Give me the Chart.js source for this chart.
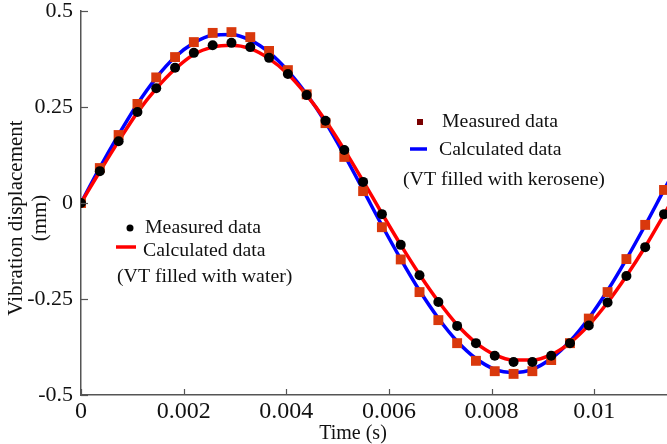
<!DOCTYPE html>
<html>
<head>
<meta charset="utf-8">
<script src="https://cdn.jsdelivr.net/npm/chart.js@4/dist/chart.umd.min.js"></script>
<style>
html,body{margin:0;padding:0;background:#fff;}
#c{display:block;}
</style>
</head>
<body>
<canvas id="c" width="667" height="444"></canvas>
<script>
// ---- data ----
const timeS = [0, 0.000367, 0.000733, 0.0011, 0.001466, 0.001833, 0.002199, 0.002566, 0.002932, 0.003299,
  0.003665, 0.004032, 0.004398, 0.004765, 0.005131, 0.005498, 0.005864, 0.006231, 0.006597, 0.006964,
  0.00733, 0.007697, 0.008063, 0.00843, 0.008796, 0.009163, 0.009529, 0.009896, 0.010262, 0.010629,
  0.010995, 0.011362];
const calcTimeS = timeS.concat([0.011728]);

const waterMeasured = [0, 0.083, 0.161, 0.237, 0.299, 0.352, 0.391, 0.411, 0.417, 0.406,
  0.378, 0.336, 0.281, 0.214, 0.138, 0.055, -0.029, -0.109, -0.188, -0.258,
  -0.320, -0.365, -0.398, -0.414, -0.414, -0.398, -0.365, -0.319, -0.259, -0.190,
  -0.115, -0.029];
const waterCalculated = [0, 0.082, 0.161, 0.236, 0.298, 0.349, 0.387, 0.406, 0.411, 0.402,
  0.376, 0.336, 0.281, 0.215, 0.139, 0.057, -0.027, -0.109, -0.186, -0.256,
  -0.317, -0.364, -0.395, -0.409, -0.409, -0.395, -0.364, -0.318, -0.259, -0.190,
  -0.114, -0.030, 0.055];

const keroseneMeasured = [0, 0.091, 0.177, 0.258, 0.327, 0.380, 0.419, 0.443, 0.445, 0.432,
  0.396, 0.346, 0.283, 0.208, 0.120, 0.031, -0.063, -0.147, -0.232, -0.305,
  -0.365, -0.411, -0.438, -0.445, -0.438, -0.409, -0.365, -0.301, -0.232, -0.146,
  -0.057, 0.034];
const keroseneCalculated = [0, 0.092, 0.178, 0.258, 0.326, 0.380, 0.417, 0.437, 0.439, 0.424,
  0.392, 0.344, 0.283, 0.210, 0.125, 0.034, -0.058, -0.146, -0.228, -0.300,
  -0.360, -0.405, -0.433, -0.441, -0.433, -0.405, -0.360, -0.300, -0.228, -0.146,
  -0.058, 0.034, 0.125];

const xTickValues = [0, 0.002, 0.004, 0.006, 0.008, 0.01];
const xTickLabels = ['0', '0.002', '0.004', '0.006', '0.008', '0.01'];
const yTickValues = [-0.5, -0.25, 0, 0.25, 0.5];
const yTickLabels = ['-0.5', '-0.25', '0', '0.25', '0.5'];

const xTitle = 'Time (s)';
const yTitleLines = ['Vibration displacement', '(mm)'];
const legendKerosene = ['Measured data', 'Calculated data', '(VT filled with kerosene)'];
const legendWater = ['Measured data', 'Calculated data', '(VT filled with water)'];

// ---- helpers ----
const pts = (xs, ys) => ys.map((y, i) => ({x: xs[i], y: y}));
const SERIF = "'Liberation Serif', 'Times New Roman', serif";
const AXIS_COLOR = '#555555';

function stretchText(ctx, text, x, y, size, sx, align) {
  ctx.save();
  ctx.font = size + 'px ' + SERIF;
  ctx.textBaseline = 'alphabetic';
  ctx.textAlign = align || 'left';
  ctx.translate(x, y);
  ctx.scale(sx, 1);
  ctx.fillText(text, 0, 0);
  ctx.restore();
}

const decorPlugin = {
  id: 'decor',
  afterDraw(chart) {
    const ctx = chart.ctx;
    const xs = chart.scales.x, ys = chart.scales.y;
    const area = chart.chartArea;
    ctx.save();
    // inward ticks
    ctx.strokeStyle = AXIS_COLOR;
    ctx.lineWidth = 1.2;
    xTickValues.forEach(v => {
      const px = Math.round(xs.getPixelForValue(v)) + 0.5;
      ctx.beginPath(); ctx.moveTo(px, area.bottom); ctx.lineTo(px, area.bottom - 6); ctx.stroke();
    });
    yTickValues.forEach(v => {
      const py = Math.round(ys.getPixelForValue(v)) + 0.5;
      ctx.beginPath(); ctx.moveTo(area.left, py); ctx.lineTo(area.left + 7, py); ctx.stroke();
    });
    ctx.fillStyle = '#111';
    // axis titles
    stretchText(ctx, xTitle, 353, 439, 20, 1.0, 'center');
    ctx.save();
    ctx.rotate(-Math.PI / 2);
    ctx.font = '21px ' + SERIF;
    ctx.textAlign = 'center';
    ctx.textBaseline = 'middle';
    ctx.fillText(yTitleLines[0], -218, 16);
    ctx.fillText(yTitleLines[1], -218, 40);
    ctx.restore();

    // legend: kerosene
    ctx.fillStyle = '#7a0000';
    ctx.fillRect(417, 119, 6, 6);
    ctx.strokeStyle = '#0000ff';
    ctx.lineWidth = 3.5;
    ctx.beginPath(); ctx.moveTo(410, 149); ctx.lineTo(427, 149); ctx.stroke();
    ctx.fillStyle = '#111';
    stretchText(ctx, legendKerosene[0], 442, 127, 18, 1.1);
    stretchText(ctx, legendKerosene[1], 439, 155, 18, 1.1);
    stretchText(ctx, legendKerosene[2], 403, 185, 18, 1.1);

    // legend: water
    ctx.fillStyle = '#000';
    ctx.beginPath(); ctx.arc(130, 228, 3.5, 0, Math.PI * 2); ctx.fill();
    ctx.strokeStyle = '#ff0000';
    ctx.lineWidth = 3.5;
    ctx.beginPath(); ctx.moveTo(116, 247); ctx.lineTo(136, 247); ctx.stroke();
    ctx.fillStyle = '#111';
    stretchText(ctx, legendWater[0], 145, 233, 18, 1.1);
    stretchText(ctx, legendWater[1], 143, 256, 18, 1.1);
    stretchText(ctx, legendWater[2], 117, 282, 18, 1.1);
    ctx.restore();
  }
};

new Chart(document.getElementById('c'), {
  type: 'scatter',
  data: {
    datasets: [
      {
        label: 'Measured data (water)',
        data: pts(timeS, waterMeasured),
        showLine: false,
        pointStyle: 'circle',
        pointRadius: 5,
        pointBorderWidth: 0,
        pointBackgroundColor: '#000000',
        order: 0
      },
      {
        label: 'Measured data (kerosene)',
        data: pts(timeS, keroseneMeasured),
        showLine: false,
        pointStyle: 'rect',
        pointRadius: 7,
        pointBorderWidth: 0,
        pointBackgroundColor: '#d9380c',
        order: 1
      },
      {
        label: 'Calculated data (water)',
        data: pts(calcTimeS, waterCalculated),
        showLine: true,
        borderColor: '#ff0000',
        borderWidth: 3.5,
        pointRadius: 0,
        cubicInterpolationMode: 'monotone',
        order: 2
      },
      {
        label: 'Calculated data (kerosene)',
        data: pts(calcTimeS, keroseneCalculated),
        showLine: true,
        borderColor: '#0000ff',
        borderWidth: 3.5,
        pointRadius: 0,
        cubicInterpolationMode: 'monotone',
        order: 3
      }
    ]
  },
  options: {
    responsive: false,
    animation: false,
    devicePixelRatio: 1,
    layout: {autoPadding: false, padding: {top: 11, right: 0, left: 0, bottom: 0}},
    plugins: {legend: {display: false}, tooltip: {enabled: false}},
    scales: {
      x: {
        type: 'linear',
        min: 0,
        max: 0.01142,
        afterBuildTicks: s => { s.ticks = xTickValues.map(v => ({value: v})); },
        afterFit: s => { s.height = 49; s.paddingLeft = 0; s.paddingRight = 0; },
        ticks: {
          callback: (v, i) => xTickLabels[i],
          font: {family: SERIF, size: 24},
          color: '#111',
          padding: 2,
          maxRotation: 0,
          autoSkip: false
        },
        grid: {display: true, drawOnChartArea: false, drawTicks: false},
        border: {display: true, color: AXIS_COLOR, width: 1.5}
      },
      y: {
        type: 'linear',
        min: -0.5,
        max: 0.5,
        afterBuildTicks: s => { s.ticks = yTickValues.map(v => ({value: v})); },
        afterFit: s => { s.width = 81; s.paddingTop = 0; s.paddingBottom = 0; },
        ticks: {
          callback: (v, i) => yTickLabels[i],
          font: {family: SERIF, size: 22},
          color: '#111',
          padding: 8,
          autoSkip: false
        },
        grid: {display: true, drawOnChartArea: false, drawTicks: false},
        border: {display: true, color: AXIS_COLOR, width: 1.5}
      }
    }
  },
  plugins: [decorPlugin]
});
</script>
</body>
</html>
